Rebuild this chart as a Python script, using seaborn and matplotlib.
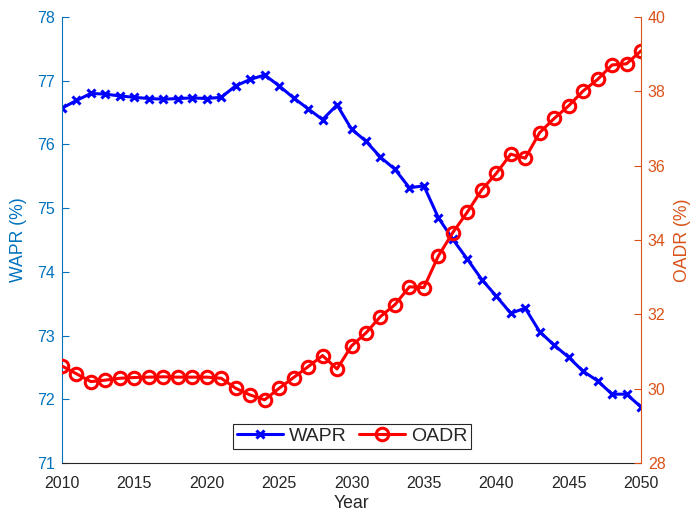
import matplotlib
matplotlib.use("Agg")
import matplotlib.pyplot as plt
import seaborn as sns
import pandas as pd

years = list(range(2010, 2051))

wapr = [76.57, 76.69, 76.80, 76.79, 76.76, 76.74, 76.72, 76.71, 76.72, 76.73,
        76.72, 76.74, 76.92, 77.02, 77.09, 76.92, 76.73, 76.56, 76.39, 76.62,
        76.24, 76.05, 75.80, 75.61, 75.32, 75.35, 74.85, 74.51, 74.20, 73.88,
        73.62, 73.35, 73.43, 73.06, 72.85, 72.66, 72.44, 72.29, 72.08, 72.08,
        71.88]

oadr = [30.61, 30.40, 30.19, 30.23, 30.28, 30.30, 30.31, 30.32, 30.31, 30.31,
        30.31, 30.28, 30.01, 29.83, 29.70, 30.01, 30.30, 30.59, 30.89, 30.53,
        31.15, 31.50, 31.94, 32.26, 32.74, 32.72, 33.57, 34.20, 34.75, 35.35,
        35.79, 36.31, 36.20, 36.89, 37.27, 37.61, 38.01, 38.32, 38.71, 38.74,
        39.09]

x_ticks = list(range(2010, 2051, 5))
left_ticks = list(range(71, 79))
right_ticks = list(range(28, 41, 2))

df = pd.DataFrame({"Year": years, "WAPR": wapr, "OADR": oadr})

sns.set_style("white")
plt.rcParams["font.family"] = ["Liberation Sans", "DejaVu Sans"]

LEFT_C = "#0072BD"
RIGHT_C = "#D95319"
AX_C = "#262626"

fig = plt.figure(figsize=(6.93, 5.12), dpi=100)
ax = fig.add_axes([62 / 693, 49 / 512, 579 / 693, 446 / 512])
ax2 = ax.twinx()

sns.lineplot(data=df, x="Year", y="WAPR", ax=ax, color=(0, 0, 1), lw=2.2,
             marker="x", markersize=6, markeredgewidth=2.2,
             markeredgecolor=(0, 0, 1), label="WAPR", legend=False)
sns.lineplot(data=df, x="Year", y="OADR", ax=ax2, color=(1, 0, 0), lw=2.2,
             marker="o", markersize=9, markeredgewidth=2.2,
             markerfacecolor="none", markeredgecolor=(1, 0, 0),
             label="OADR", legend=False)

ax.set_xlim(2010, 2050)
ax.set_ylim(71, 78)
ax2.set_ylim(28, 40)
ax.set_xticks(x_ticks)
ax.set_yticks(left_ticks)
ax2.set_yticks(right_ticks)

for a in (ax, ax2):
    a.spines["top"].set_visible(False)
    a.grid(False)
ax.spines["right"].set_visible(False)
ax.spines["left"].set_color(LEFT_C)
ax2.spines["right"].set_color(RIGHT_C)
ax2.spines["left"].set_visible(False)
ax.spines["bottom"].set_color(AX_C)
ax2.spines["bottom"].set_visible(False)
for s in ("left", "bottom"):
    ax.spines[s].set_linewidth(0.8)
ax2.spines["right"].set_linewidth(0.8)

ax.tick_params(axis="x", direction="in", length=5, width=0.8, colors=AX_C,
               labelsize=11.5, pad=9)
ax.tick_params(axis="y", direction="in", length=5, width=0.8, colors=LEFT_C,
               labelsize=11.5, pad=5)
ax2.tick_params(axis="y", direction="in", length=5, width=0.8, colors=RIGHT_C,
                labelsize=11.5, pad=5)

ax.set_xlabel("Year", fontsize=12.7, color=AX_C, labelpad=3)
ax.set_ylabel("WAPR (%)", fontsize=12.7, color=LEFT_C, labelpad=7)
ax2.set_ylabel("OADR (%)", fontsize=12.7, color=RIGHT_C, labelpad=6)

h1, l1 = ax.get_legend_handles_labels()
h2, l2 = ax2.get_legend_handles_labels()
leg = ax2.legend(h1 + h2, l1 + l2, loc="lower center",
                 bbox_to_anchor=(0.501, 0.031), ncol=2, fontsize=14,
                 frameon=True, fancybox=False, framealpha=1,
                 edgecolor=AX_C, borderpad=0.2, handlelength=2.4,
                 handletextpad=0.3, columnspacing=0.6, borderaxespad=0)
leg.get_frame().set_linewidth(0.8)

fig.savefig("out.png", dpi=100)
